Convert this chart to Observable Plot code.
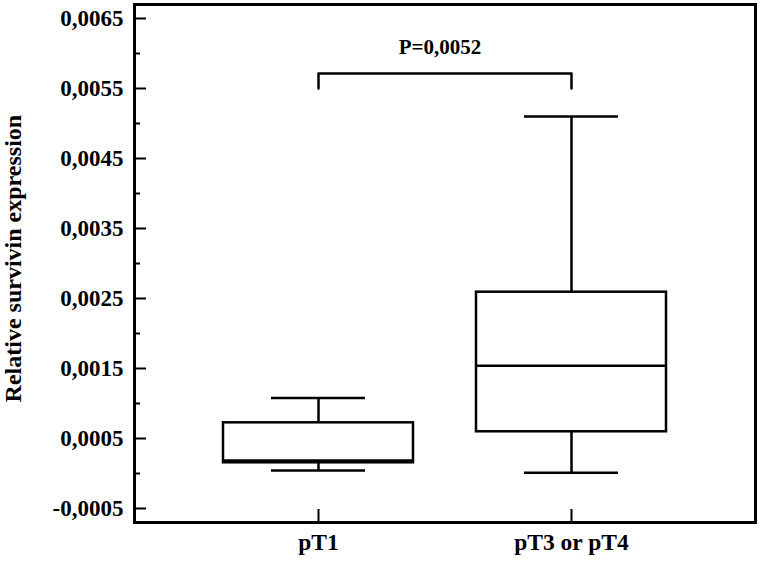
<!DOCTYPE html>
<html>
<head>
<meta charset="utf-8">
<script src="https://cdn.jsdelivr.net/npm/d3@7"></script>
<script src="https://cdn.jsdelivr.net/npm/@observablehq/plot@0.6"></script>
<style>
  html, body { margin: 0; padding: 0; background: #fff; }
  #chart svg { display: block; }
</style>
</head>
<body>
<div id="chart"></div>
<script>
// Data
const groups = ["pT1", "pT3 or pT4"];
const mins    = [0.000043, 0.00001];
const q1s     = [0.000153, 0.000596];
const medians = [0.000186, 0.00154];
const q3s     = [0.000724, 0.00259];
const maxs    = [0.00108, 0.0051];
const majorTicks = [-0.0005, 0.0005, 0.0015, 0.0025, 0.0035, 0.0045, 0.0055, 0.0065];
const minorTicks = [0, 0.001, 0.002, 0.003, 0.004, 0.005, 0.006];
const bracketY = 0.005714;
const bracketFoot = 0.0055;
const pLabel = "P=0,0052";
const pLabelY = 0.00609;
const yTitle = "Relative survivin expression";
const yTitlePos = 0.00307;

const boxes = groups.map((g, i) => ({g, min: mins[i], q1: q1s[i], med: medians[i], q3: q3s[i], max: maxs[i]}));
const bracket = [
  {g: groups[0], y: bracketFoot},
  {g: groups[0], y: bracketY},
  {g: groups[1], y: bracketY},
  {g: groups[1], y: bracketFoot}
];

const fmt = d => d3.format(".4f")(d).replace(".", ",").replace("\u2212", "-");
const font = "'Liberation Serif', 'Times New Roman', serif";

const W = 760, H = 561;
const mL = 134, mR = 5, mT = 4, mB = 39;
const innerW = W - mL - mR, innerH = H - mT - mB;

const chart = Plot.plot({
  width: W,
  height: H,
  marginLeft: mL,
  marginRight: mR,
  marginTop: mT,
  marginBottom: mB,
  style: {fontFamily: font, fontWeight: "bold", fontSize: "23px", color: "#000", background: "#fff"},
  x: {type: "band", domain: groups, paddingInner: 0.248, paddingOuter: 0.3465},
  y: {domain: [-0.0007, 0.0067]},
  marks: [
    Plot.axisY({ticks: majorTicks, tickFormat: fmt, tickSize: 0, tickPadding: 11, label: null, fontSize: 23, fontWeight: "bold"}),
    Plot.axisX({tickSize: 0, tickPadding: 11, label: null, fontSize: 23.5, fontWeight: "bold"}),
    // inner ticks
    Plot.ruleY(majorTicks, {y: d => d, insetRight: innerW - 12, stroke: "#000", strokeWidth: 2}),
    Plot.ruleY(minorTicks, {y: d => d, insetRight: innerW - 6, stroke: "#000", strokeWidth: 2}),
    Plot.ruleX(groups, {x: d => d, insetTop: innerH - 13, stroke: "#000", strokeWidth: 2}),
    // whiskers
    Plot.ruleX(boxes, {x: "g", y1: "min", y2: "q1", stroke: "#000", strokeWidth: 2.5}),
    Plot.ruleX(boxes, {x: "g", y1: "q3", y2: "max", stroke: "#000", strokeWidth: 2.5}),
    Plot.tickY(boxes, {x: "g", y: "min", inset: 48, stroke: "#000", strokeWidth: 2.5}),
    Plot.tickY(boxes, {x: "g", y: "max", inset: 48, stroke: "#000", strokeWidth: 2.5}),
    // boxes
    Plot.barY(boxes, {x: "g", y1: "q1", y2: "q3", fill: "#fff", stroke: "#000", strokeWidth: 2.5}),
    Plot.tickY(boxes, {x: "g", y: "med", stroke: "#000", strokeWidth: 2.5}),
    // significance bracket
    Plot.line(bracket, {x: "g", y: "y", stroke: "#000", strokeWidth: 2.5, curve: "linear"}),
    Plot.text([pLabel], {text: d => d, y: () => pLabelY, frameAnchor: "middle", dx: -5, fontSize: 21, fontWeight: "bold", fill: "#000"}),
    // y title
    Plot.text([yTitle], {text: d => d, frameAnchor: "left", textAnchor: "middle", y: () => yTitlePos, dx: -121, rotate: -90, fontSize: 24, fontWeight: "bold", fill: "#000"}),
    Plot.frame({stroke: "#000", strokeWidth: 3})
  ]
});
document.getElementById("chart").appendChild(chart);
</script>
</body>
</html>
